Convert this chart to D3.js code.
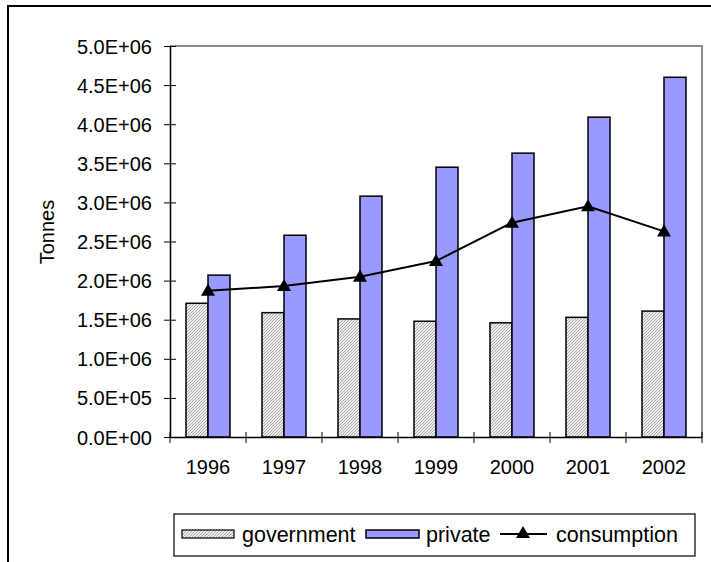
<!DOCTYPE html>
<html>
<head>
<meta charset="utf-8">
<script src="https://cdn.jsdelivr.net/npm/d3@7"></script>
<style>
  html, body { margin: 0; padding: 0; background: #fff; }
  svg { display: block; font-family: "Liberation Sans", Arial, sans-serif; }
</style>
</head>
<body>
<svg id="chart" width="711" height="562"></svg>
<script>
// Annual tonnage by sector, 1996–2002
const years = ["1996", "1997", "1998", "1999", "2000", "2001", "2002"];
const government = [1.71e6, 1.59e6, 1.51e6, 1.48e6, 1.46e6, 1.53e6, 1.61e6];
const privateSector = [2.07e6, 2.58e6, 3.08e6, 3.45e6, 3.63e6, 4.09e6, 4.60e6];
const consumption = [1.87e6, 1.93e6, 2.05e6, 2.25e6, 2.74e6, 2.95e6, 2.63e6];
const yTicks = [0, 5e5, 1e6, 1.5e6, 2e6, 2.5e6, 3e6, 3.5e6, 4e6, 4.5e6, 5e6];
const seriesNames = ["government", "private", "consumption"];

const FS = "20px";
const LFS = "21.5px";
const svg = d3.select("#chart");
const plot = { left: 170, right: 702, top: 46, bottom: 437 };

// Fine hatched fill for the government bars
const defs = svg.append("defs");
const pat = defs.append("pattern")
  .attr("id", "hatch")
  .attr("patternUnits", "userSpaceOnUse")
  .attr("width", 3).attr("height", 3);
pat.append("rect").attr("width", 3).attr("height", 3).attr("fill", "#eeeeee");
pat.append("path").attr("d", "M-1,1 L1,-1 M0,3 L3,0 M2,4 L4,2")
  .attr("stroke", "#8a8a8a").attr("stroke-width", 0.7);

// Chart frame
svg.append("path")
  .attr("d", "M8,562 L8,6 L711,6")
  .attr("fill", "none").attr("stroke", "#000").attr("stroke-width", 2);

// Plot area frame (top and right edges)
svg.append("path")
  .attr("d", `M${plot.left},${plot.top} L${plot.right},${plot.top} L${plot.right},${plot.bottom}`)
  .attr("fill", "none").attr("stroke", "#8c8c8c").attr("stroke-width", 2);

const x = d3.scaleBand().domain(years).range([plot.left, plot.right]).padding(0);
const y = d3.scaleLinear().domain([0, 5e6]).range([plot.bottom, plot.top]);
const barW = 22;

// Bars
const groups = svg.append("g").selectAll("g").data(years).join("g");
groups.append("rect")
  .attr("x", (d) => x(d) + x.bandwidth() / 2 - barW)
  .attr("y", (d, i) => y(government[i]))
  .attr("width", barW)
  .attr("height", (d, i) => y(0) - y(government[i]))
  .attr("fill", "url(#hatch)")
  .attr("stroke", "#000").attr("stroke-width", 1.5);
groups.append("rect")
  .attr("x", (d) => x(d) + x.bandwidth() / 2)
  .attr("y", (d, i) => y(privateSector[i]))
  .attr("width", barW)
  .attr("height", (d, i) => y(0) - y(privateSector[i]))
  .attr("fill", "#9999ff")
  .attr("stroke", "#000").attr("stroke-width", 1.5);

// Y axis
const yAxis = svg.append("g")
  .attr("transform", `translate(${plot.left},0)`)
  .call(d3.axisLeft(y).tickValues(yTicks).tickSizeInner(6).tickSizeOuter(0)
    .tickFormat((d) => d3.format(".1e")(d).replace("e", "E").replace(/E([+-])(\d)$/, "E$10$2")));
yAxis.select(".domain").attr("stroke", "#000").attr("stroke-width", 1.5);
yAxis.selectAll(".tick line").attr("x1", -6).attr("x2", 6).attr("stroke", "#000");
yAxis.selectAll(".tick text")
  .attr("x", -18).attr("dy", "0.35em")
  .style("font-size", FS).attr("fill", "#000");

// X axis with ticks between categories
const xAxis = svg.append("g")
  .attr("transform", `translate(0,${plot.bottom})`)
  .call(d3.axisBottom(x).tickSize(0).tickPadding(23));
xAxis.select(".domain").attr("stroke", "#000").attr("stroke-width", 1.5);
xAxis.selectAll(".tick text").style("font-size", FS).attr("fill", "#000");
const bounds = years.map((d) => x(d)).concat([x(years[years.length - 1]) + x.bandwidth()]);
xAxis.append("g").selectAll("line").data(bounds).join("line")
  .attr("x1", (d) => d).attr("x2", (d) => d)
  .attr("y1", -5).attr("y2", 6)
  .attr("stroke", "#000").attr("stroke-width", 1);

// Consumption line with triangle markers
const cx = (i) => x(years[i]) + x.bandwidth() / 2;
const line = d3.line().x((d, i) => cx(i)).y((d) => y(d));
svg.append("path").datum(consumption)
  .attr("d", line).attr("fill", "none")
  .attr("stroke", "#000").attr("stroke-width", 2);
const tri = d3.symbol().type(d3.symbolTriangle).size(85);
svg.append("g").selectAll("path").data(consumption).join("path")
  .attr("d", tri)
  .attr("transform", (d, i) => `translate(${cx(i)},${y(d) + 1})`)
  .attr("fill", "#000");

// Y axis title
svg.append("text")
  .attr("transform", "translate(54,232) rotate(-90)")
  .attr("text-anchor", "middle")
  .style("font-size", FS)
  .text("Tonnes");

// Legend
const legend = svg.append("g");
legend.append("rect")
  .attr("x", 174).attr("y", 514).attr("width", 521).attr("height", 42)
  .attr("fill", "#fff").attr("stroke", "#000").attr("stroke-width", 1.2);
const ly = 534;
legend.append("rect").attr("x", 182).attr("y", ly - 4).attr("width", 52).attr("height", 8)
  .attr("fill", "url(#hatch)").attr("stroke", "#000").attr("stroke-width", 1.2);
legend.append("text").attr("x", 242).attr("y", ly).attr("dy", "0.35em")
  .style("font-size", LFS).text(seriesNames[0]);
legend.append("rect").attr("x", 366).attr("y", ly - 4).attr("width", 53).attr("height", 8)
  .attr("fill", "#9999ff").attr("stroke", "#000").attr("stroke-width", 1.5);
legend.append("text").attr("x", 426).attr("y", ly).attr("dy", "0.35em")
  .style("font-size", LFS).text(seriesNames[1]);
legend.append("line").attr("x1", 500).attr("x2", 547).attr("y1", ly).attr("y2", ly)
  .attr("stroke", "#000").attr("stroke-width", 2);
legend.append("path").attr("d", tri).attr("transform", `translate(523,${ly})`).attr("fill", "#000");
legend.append("text").attr("x", 556).attr("y", ly).attr("dy", "0.35em")
  .style("font-size", LFS).text(seriesNames[2]);
</script>
</body>
</html>
